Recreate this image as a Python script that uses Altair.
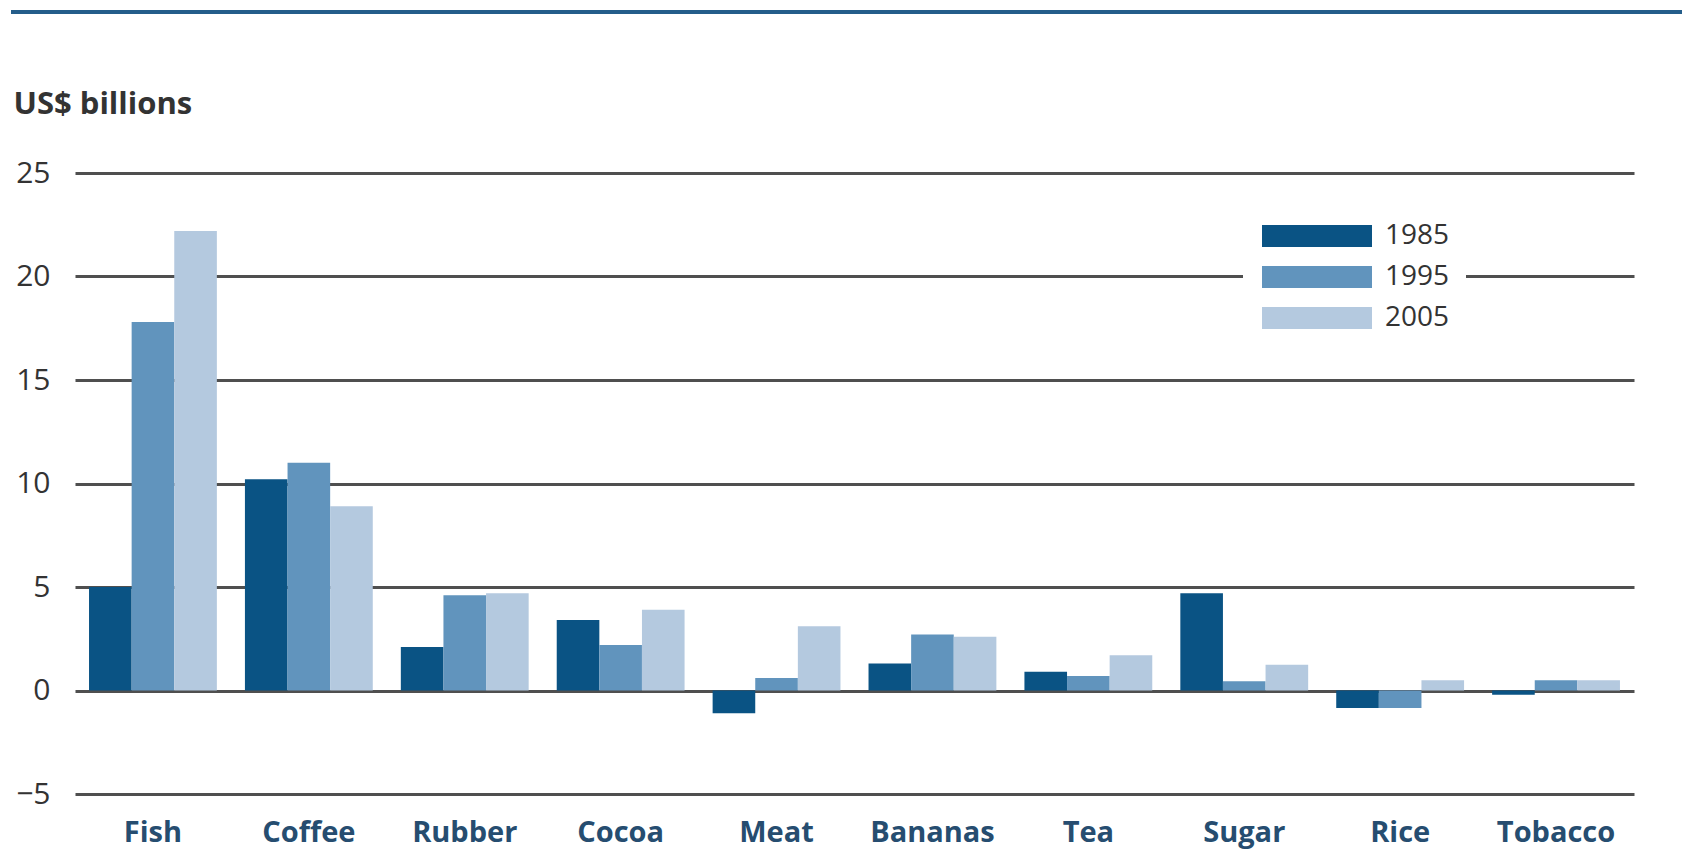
import altair as alt
import pandas as pd

commodities = ["Fish", "Coffee", "Rubber", "Cocoa", "Meat", "Bananas", "Tea", "Sugar", "Rice", "Tobacco"]
years = ["1985", "1995", "2005"]
v1985 = [5.0, 10.2, 2.1, 3.4, -1.1, 1.3, 0.9, 4.7, -0.85, -0.2]
v1995 = [17.8, 11.0, 4.6, 2.2, 0.6, 2.7, 0.7, 0.45, -0.85, 0.5]
v2005 = [22.2, 8.9, 4.7, 3.9, 3.1, 2.6, 1.7, 1.25, 0.5, 0.5]
y_ticks = [-5, 0, 5, 10, 15, 20, 25]
colors = ["#0a5384", "#6194bd", "#b4c9df"]

rows = []
for yr, vals in zip(years, [v1985, v1995, v2005]):
    for c, v in zip(commodities, vals):
        rows.append({"commodity": c, "year": yr, "value": v})
df = pd.DataFrame(rows)

bars = alt.Chart(df).mark_bar().encode(
    x=alt.X(
        "commodity:N", sort=commodities,
        scale=alt.Scale(paddingInner=0.18, paddingOuter=0.09),
        axis=alt.Axis(title=None, labelAngle=0, ticks=False, domain=False,
                      labelFont="Open Sans", labelFontSize=29, labelFontWeight="bold",
                      labelColor="#264d70", labelPadding=24),
    ),
    xOffset=alt.XOffset("year:N", sort=years, scale=alt.Scale(paddingInner=0, paddingOuter=0)),
    y=alt.Y(
        "value:Q",
        scale=alt.Scale(domain=[-5, 25], nice=False, zero=False),
        axis=alt.Axis(values=y_ticks, ticks=False, domain=False, grid=True,
                      gridColor="#4f4f4f", gridWidth=2.8,
                      labelFont="Open Sans", labelFontSize=30, labelColor="#333333",
                      labelPadding=25,
                      title="US$ billions", titleAngle=0, titleAlign="left",
                      titleBaseline="alphabetic", titleX=-62, titleY=-60,
                      titleFont="Open Sans", titleFontSize=31, titleFontWeight="bold",
                      titleColor="#333333"),
    ),
    color=alt.Color(
        "year:N", sort=years,
        scale=alt.Scale(domain=years, range=colors),
        legend=alt.Legend(title=None, orient="none", legendX=1168, legendY=33,
                          fillColor="white", padding=16,
                          symbolType="M-1,-1L9,-1L9,1L-1,1Z", symbolSize=484,
                          symbolStrokeWidth=0, symbolOpacity=1,
                          labelOffset=98, rowPadding=13,
                          labelFont="Open Sans", labelFontSize=28, labelColor="#333333"),
    ),
)

top_line = alt.Chart(pd.DataFrame({"d": [0]})).mark_rule(color="#245d8a", strokeWidth=4).encode(
    x=alt.value(-64), x2=alt.value(1607), y=alt.value(-161)
)

chart = alt.layer(bars, top_line).properties(
    width=1559, height=621,
    padding={"left": 75, "top": 173, "right": 48, "bottom": 56},
    autosize="none",
    background="white",
).configure_view(stroke=None)

chart.save("out.html", embed_options={"renderer": "svg", "actions": False})
